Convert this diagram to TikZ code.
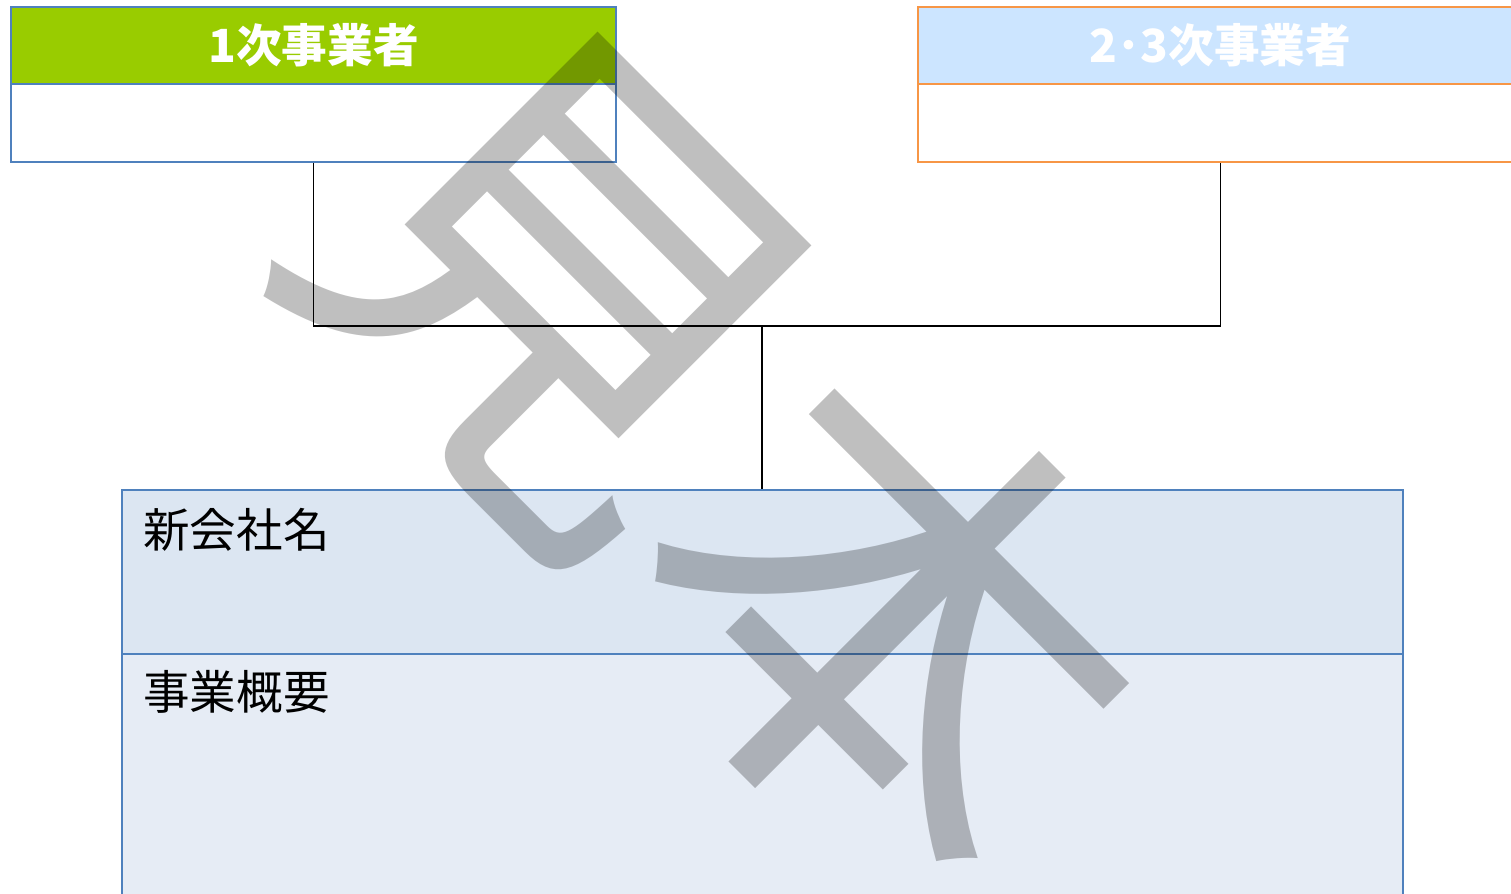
\documentclass[tikz,border=0pt]{standalone}
\usepackage{fontspec}
\newfontfamily\jpfont{Noto Sans CJK JP}
\usetikzlibrary{positioning,calc}
\definecolor{leafgreen}{HTML}{99CC00}
\definecolor{skyblue}{HTML}{CCE5FF}
\definecolor{boxblue}{HTML}{4F81BD}
\definecolor{boxorange}{HTML}{F79646}
\definecolor{nameblue}{HTML}{DCE6F2}
\definecolor{descblue}{HTML}{E6ECF5}

\begin{document}
\begin{tikzpicture}[x=0.02cm, y=-0.02cm, font=\jpfont,
    headbox/.style={rectangle, line width=1.1pt, inner sep=0pt, minimum width=12.1cm,
      minimum height=1.54cm, text=white, font=\jpfont\bfseries\fontsize{26}{30}\selectfont},
    bodybox/.style={rectangle, line width=1.1pt, inner sep=0pt},
    lbl/.style={anchor=west, inner sep=0pt, font=\jpfont\fontsize{26.5}{30}\selectfont},
    stamp/.style={text=black, text opacity=0.25, inner sep=0pt,
      font=\jpfont\fontsize{272}{280}\selectfont}]
        \clip (0,0) rectangle (1511,893);
        %nodes
        \node[headbox, fill=leafgreen, draw=boxblue] (p1) at (313.5, 45.5) {1次事業者};
        \node[bodybox, draw=boxblue, minimum width=12.1cm, minimum height=1.56cm] (p1b) at (313.5, 123) {};
        \node[headbox, fill=skyblue, draw=boxorange] (p2) at (1220.5, 45.5) {2･3次事業者};
        \node[bodybox, draw=boxorange, minimum width=12.1cm, minimum height=1.56cm] (p2b) at (1220.5, 123) {};
        \node[bodybox, fill=nameblue, draw=boxblue, minimum width=25.62cm, minimum height=3.28cm] (co) at (762.5, 572) {};
        \node[bodybox, fill=descblue, draw=boxblue, minimum width=25.62cm, minimum height=5.2cm] (desc) at (762.5, 784) {};
        \node[lbl] (coname) at (143, 530) {新会社名};
        \node[lbl] (codesc) at (143, 692) {事業概要};
        \coordinate (join) at (762, 326);
        %edges
        \path [draw, line width=0.8pt] (p1b.south) |- (join) -| (p2b.south);
        \path [draw, line width=0.8pt] (join) -- (join |- co.north);
        %sample mark
        \node[stamp, rotate=-45] (sample) at (729, 451) {見本};
\end{tikzpicture}
\end{document}
